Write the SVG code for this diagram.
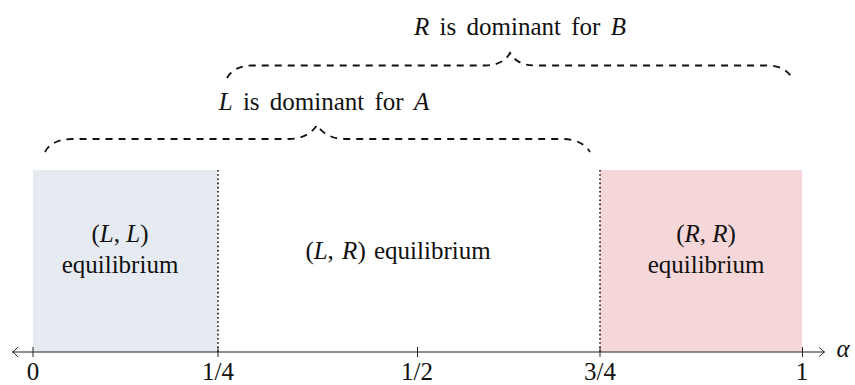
<svg xmlns="http://www.w3.org/2000/svg" width="855" height="385" viewBox="0 0 855 385">
<defs>
  <path id="tipshape" d="M-5,-4.5 Q-2,-1 0,0 Q-2,1 -5,4.5" fill="none" stroke="#222" stroke-width="1" stroke-linecap="round"/>
</defs>

<g id="region-LL">
  <rect x="33" y="170" width="185" height="182" fill="#e6ebf2"/>
  <text x="120" y="242" text-anchor="middle" font-family="Liberation Serif" font-size="25" fill="#111">(<tspan font-style="italic">L</tspan>, <tspan font-style="italic">L</tspan>)</text>
  <text x="120" y="273" text-anchor="middle" font-family="Liberation Serif" font-size="25" fill="#111">equilibrium</text>
</g>

<g id="region-RR">
  <rect x="600" y="170" width="202" height="182" fill="#f6d7d9"/>
  <text x="706" y="242" text-anchor="middle" font-family="Liberation Serif" font-size="25" fill="#111">(<tspan font-style="italic">R</tspan>, <tspan font-style="italic">R</tspan>)</text>
  <text x="706" y="273" text-anchor="middle" font-family="Liberation Serif" font-size="25" fill="#111">equilibrium</text>
</g>

<g id="region-LR">
  <text x="398" y="259" text-anchor="middle" word-spacing="2" font-family="Liberation Serif" font-size="25" fill="#111">(<tspan font-style="italic">L</tspan>, <tspan font-style="italic">R</tspan>) equilibrium</text>
</g>

<g id="boundaries" stroke="#111" stroke-width="1.6" stroke-dasharray="1.6 2.6" fill="none">
  <line x1="218" y1="170" x2="218" y2="352"/>
  <line x1="600" y1="170" x2="600" y2="352"/>
</g>

<g id="brace-A">
  <path fill="none" stroke="#111" stroke-width="1.8" stroke-dasharray="7 6" d="M45,152 C49,144 58.5,139 72,139 L289,139 C302.5,139 312,133.1 317,125 C322,133.1 331.5,139 345,139 L563,139 C576.5,139 586,144.9 590,152"/>
  <text x="324" y="110" text-anchor="middle" word-spacing="4" font-family="Liberation Serif" font-size="25" fill="#111"><tspan font-style="italic">L</tspan> is dominant for <tspan font-style="italic">A</tspan></text>
</g>

<g id="brace-B">
  <path fill="none" stroke="#111" stroke-width="1.8" stroke-dasharray="7 6" d="M227,78 C231,70.5 240,65.5 252,65.5 L485,65.5 C497.5,65.5 506,60.5 510,53 C514,60.5 522.5,65.5 535,65.5 L767,65.5 C779.5,65.5 788,70.5 792,78"/>
  <text x="520" y="35" text-anchor="middle" word-spacing="4" font-family="Liberation Serif" font-size="25" fill="#111"><tspan font-style="italic">R</tspan> is dominant for <tspan font-style="italic">B</tspan></text>
</g>

<g id="axis">
  <line x1="12.5" y1="352" x2="824.5" y2="352" stroke="#222" stroke-width="1"/>
  <use href="#tipshape" transform="translate(12.5,352) rotate(180)"/>
  <use href="#tipshape" transform="translate(824.5,352)"/>
  <g stroke="#222" stroke-width="1">
    <line x1="33" y1="347" x2="33" y2="357"/>
    <line x1="218" y1="347" x2="218" y2="357"/>
    <line x1="417.5" y1="347" x2="417.5" y2="357"/>
    <line x1="600" y1="347" x2="600" y2="357"/>
    <line x1="802.5" y1="347" x2="802.5" y2="357"/>
  </g>
  <text x="33" y="380" text-anchor="middle" font-family="Liberation Serif" font-size="25" fill="#111">0</text>
  <text x="218" y="380" text-anchor="middle" font-family="Liberation Serif" font-size="25" fill="#111">1/4</text>
  <text x="417" y="380" text-anchor="middle" font-family="Liberation Serif" font-size="25" fill="#111">1/2</text>
  <text x="600" y="380" text-anchor="middle" font-family="Liberation Serif" font-size="25" fill="#111">3/4</text>
  <text x="802" y="380" text-anchor="middle" font-family="Liberation Serif" font-size="25" fill="#111">1</text>
  <text x="843" y="357" text-anchor="middle" font-style="italic" font-family="Liberation Serif" font-size="25" fill="#111">α</text>
</g>
</svg>
